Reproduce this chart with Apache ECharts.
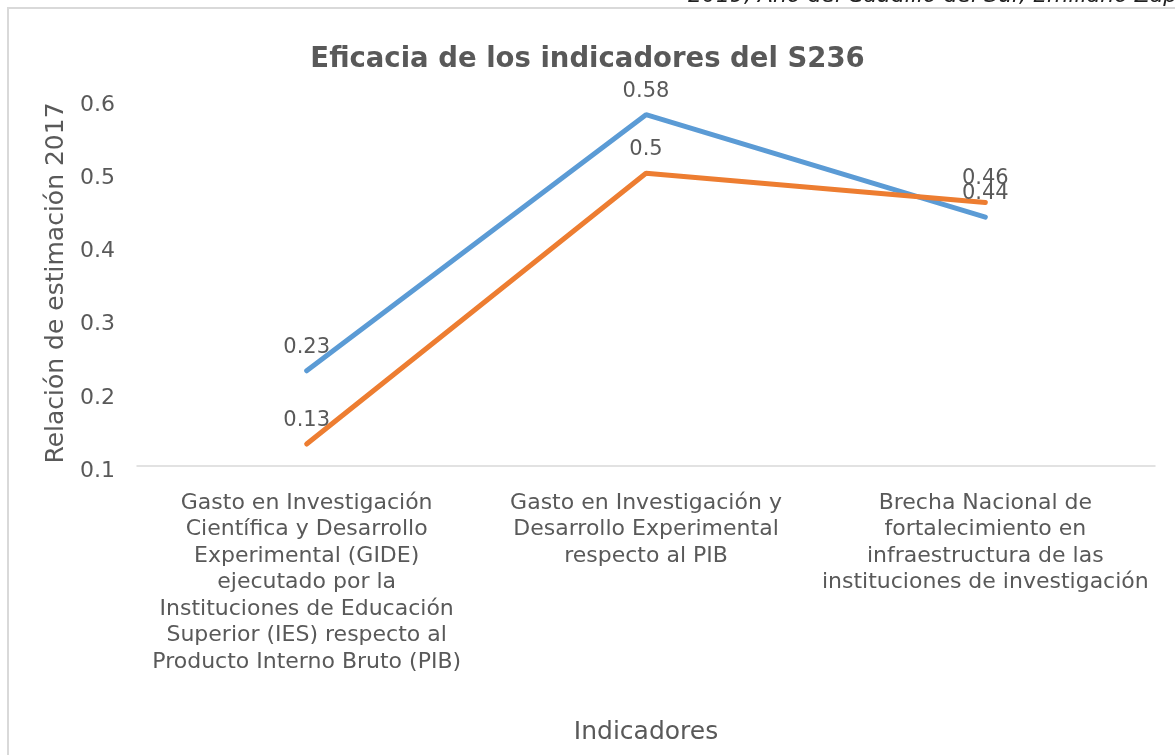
<!DOCTYPE html>
<html>
<head>
<meta charset="utf-8">
<script src="https://cdn.jsdelivr.net/npm/echarts@6/dist/echarts.min.js"></script>
<style>
  html, body { margin: 0; padding: 0; background: #fff; }
  #chart { width: 1175px; height: 755px; }
</style>
</head>
<body>
<div id="chart"></div>
<script>
// categorías del eje x (saltos de línea como en el original)
const categorias = [
  'Gasto en Investigación\nCientífica y Desarrollo\nExperimental (GIDE)\nejecutado por la\nInstituciones de Educación\nSuperior (IES) respecto al\nProducto Interno Bruto (PIB)',
  'Gasto en Investigación y\nDesarrollo Experimental\nrespecto al PIB',
  'Brecha Nacional de\nfortalecimiento en\ninfraestructura de las\ninstituciones de investigación'
]
// series
const serieAzul = [0.23, 0.58, 0.44]
const serieNaranja = [0.13, 0.5, 0.46]

const fuente = 'DejaVu Sans'
const gris = '#595959'

const chart = echarts.init(document.getElementById('chart'))

// etiqueta de dato común
const etiqueta = { show: true, position: 'top', distance: 13, fontSize: 21, color: gris }

const option = {
  animation: false,
  textStyle: { fontFamily: fuente },
  title: {
    text: 'Eficacia de los indicadores del S236',
    left: 'center',
    top: 41,
    textStyle: { fontFamily: fuente, fontSize: 27.5, fontWeight: 'bold', color: gris }
  },
  graphic: [
    // marco del área del gráfico
    {
      type: 'polyline',
      shape: { points: [[8, 755], [8, 8], [1175, 8]] },
      style: { stroke: '#d9d9d9', lineWidth: 2, fill: null }
    },
    // encabezado recortado del documento
    {
      type: 'text',
      left: 688,
      top: -15,
      style: {
        text: '2019, Año del Caudillo del Sur, Emiliano Zapata',
        font: 'italic 22px "DejaVu Sans"',
        fill: '#222'
      }
    }
  ],
  grid: { left: 137, right: 20, top: 100, bottom: 289 },
  xAxis: {
    type: 'category',
    data: categorias,
    boundaryGap: true,
    name: 'Indicadores',
    nameLocation: 'middle',
    nameGap: 254,
    nameTextStyle: { fontSize: 25, color: gris },
    axisLine: { lineStyle: { color: '#d9d9d9', width: 1.5 } },
    axisTick: { show: false },
    axisLabel: { fontSize: 22, color: gris, lineHeight: 26.5, margin: 24, interval: 0 }
  },
  yAxis: {
    type: 'value',
    min: 0.1,
    max: 0.6,
    interval: 0.1,
    name: 'Relación de estimación 2017',
    nameLocation: 'middle',
    nameGap: 62,
    nameTextStyle: { fontSize: 25, color: gris },
    axisLine: { show: false },
    axisTick: { show: false },
    splitLine: { show: false },
    axisLabel: {
      fontSize: 22,
      color: gris,
      margin: 22,
      verticalAlign: 'top',
      lineHeight: 10,
      formatter: v => String(+v.toFixed(1))
    }
  },
  series: [
    {
      name: 'Serie 1',
      type: 'line',
      data: serieAzul,
      symbol: 'circle',
      symbolSize: 0,
      showSymbol: true,
      lineStyle: { color: '#5b9bd5', width: 5, cap: 'round' },
      itemStyle: { color: '#5b9bd5' },
      label: etiqueta
    },
    {
      name: 'Serie 2',
      type: 'line',
      data: serieNaranja,
      symbol: 'circle',
      symbolSize: 0,
      showSymbol: true,
      lineStyle: { color: '#ed7d31', width: 5, cap: 'round' },
      itemStyle: { color: '#ed7d31' },
      label: etiqueta
    }
  ]
}

chart.setOption(option)
</script>
</body>
</html>
